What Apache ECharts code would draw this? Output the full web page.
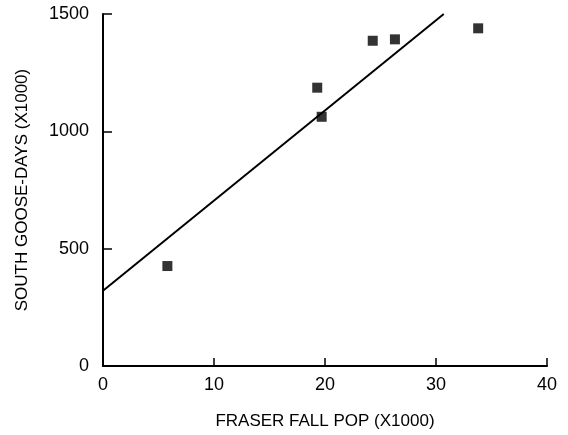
<!DOCTYPE html>
<html><head><meta charset="utf-8">
<script src="https://cdn.jsdelivr.net/npm/echarts@6/dist/echarts.min.js"></script>
<style>html,body{margin:0;padding:0;background:#fff}#c{width:568px;height:435px}</style>
</head><body><div id="c"></div>
<script>
const xTicks = [0, 10, 20, 30, 40];
const yTicks = [0, 500, 1000, 1500];
const fallPop = [5.8, 19.3, 19.7, 24.3, 26.3, 33.8];
const gooseDays = [426, 1186, 1062, 1386, 1392, 1439];
const fitX = [0, 30.7];
const fitY = [321, 1500];
const xTitle = 'FRASER FALL POP (X1000)';
const yTitle = 'SOUTH GOOSE-DAYS (X1000)';

const font = 'Liberation Sans, Arial, sans-serif';
const chart = echarts.init(document.getElementById('c'));
chart.setOption({
  animation: false,
  backgroundColor: '#fff',
  grid: { left: 103, right: 21, top: 14, bottom: 69 },
  xAxis: {
    type: 'value', min: xTicks[0], max: xTicks[xTicks.length-1], interval: 10,
    name: xTitle, nameLocation: 'middle', nameGap: 47,
    nameTextStyle: { fontFamily: font, fontSize: 17, color: '#000' },
    axisLine: { lineStyle: { color: '#000', width: 2 } },
    axisTick: { inside: true, length: 8, lineStyle: { color: '#000', width: 1.5 } },
    axisLabel: { fontFamily: font, fontSize: 18, color: '#000', margin: 10, formatter: v => String(v) },
    splitLine: { show: false }
  },
  yAxis: {
    type: 'value', min: yTicks[0], max: yTicks[yTicks.length-1], interval: 500,
    name: yTitle, nameLocation: 'middle', nameGap: 72,
    nameTextStyle: { fontFamily: font, fontSize: 17, color: '#000' },
    axisLine: { show: true, lineStyle: { color: '#000', width: 2 } },
    axisTick: { show: true, inside: true, length: 9, lineStyle: { color: '#000', width: 1.5 } },
    axisLabel: { fontFamily: font, fontSize: 18, color: '#000', margin: 14, formatter: v => String(v) },
    splitLine: { show: false }
  },
  series: [
    {
      type: 'line', data: fitX.map((x, i) => [x, fitY[i]]),
      showSymbol: false, symbol: 'none',
      lineStyle: { color: '#000', width: 2 }
    },
    {
      type: 'scatter', data: fallPop.map((x, i) => [x, gooseDays[i]]),
      symbol: 'rect', symbolSize: 10,
      itemStyle: { color: '#000' }
    }
  ]
});
</script></body></html>
